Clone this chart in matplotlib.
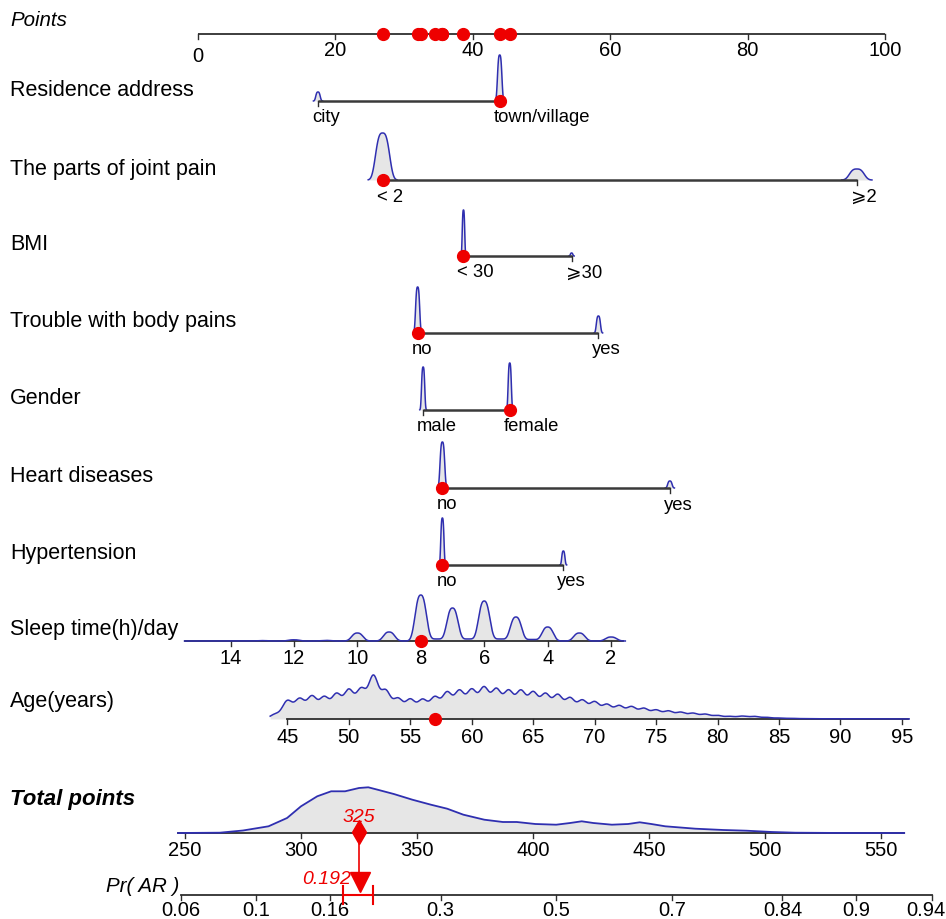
import numpy as np
import matplotlib
matplotlib.use("Agg")
import matplotlib.pyplot as plt

# ---------------- data ----------------
points_ticks = [0, 20, 40, 60, 80, 100]

residence_levels = ["city", "town/village"]
residence_points = [17.5, 43.94]
residence_density = [9, 46]

joint_levels = ["< 2", "\u2a7e2"]
joint_points = [26.9, 95.9]
joint_density = [47, 11]

bmi_levels = ["< 30", "\u2a7e30"]
bmi_points = [38.67, 54.4]
bmi_density = [46, 3]

body_levels = ["no", "yes"]
body_points = [32.0, 58.3]
body_density = [46, 17]

gender_levels = ["male", "female"]
gender_points = [32.8, 45.4]
gender_density = [43, 47]

heart_levels = ["no", "yes"]
heart_points = [35.6, 68.7]
heart_density = [46, 7]

hyper_levels = ["no", "yes"]
hyper_points = [35.6, 53.2]
hyper_density = [47, 14]

# selected levels for the individual patient
selected = {"res": 1, "joint": 0, "bmi": 0, "body": 0, "gender": 1,
            "heart": 0, "hyper": 0}
sleep_selected = 8
age_selected = 57

# continuous predictors: points = intercept + slope * value
sleep_ticks = [14, 12, 10, 8, 6, 4, 2]
sleep_pts_intercept, sleep_pts_slope = 69.37, -4.614
sleep_hours = [2, 3, 4, 4.5, 5, 5.5, 6, 6.5, 7, 7.5, 8, 9, 10, 11, 12, 13]
sleep_freq = [4, 8, 14, 1.5, 24, 2, 40, 2, 33, 2, 46, 9, 8, 0.6, 1.2, 0.4]

age_ticks = [45, 50, 55, 60, 65, 70, 75, 80, 85, 90, 95]
age_pts_intercept, age_pts_slope = 13.05 - 45 * 1.788, 1.788
age_years = list(range(44, 96))
age_freq = [5, 19.3, 21, 23.7, 22.7, 26, 30.3, 31, 45.3, 29.3, 21, 20.3, 20,
            22.7, 27.7, 29.3, 30.3, 32.7, 31, 29.3, 29.3, 27.7, 26, 25, 21.7,
            19.3, 17.7, 15, 13.7, 12.7, 11, 9.3, 8.3, 7, 6, 5, 3.7, 2.7, 3,
            2.7, 1.7, 1, 0.7, 0.4, 0.3, 0.2, 0.2, 0.2, 0.2, 0.2, 0.2, 0.2]

total_ticks = [250, 300, 350, 400, 450, 500, 550]
total_value = 325
total_dens_x = [247, 265, 275, 286, 294, 300, 307, 313, 319, 325, 329, 333,
                340, 348, 356, 363, 370, 379, 387, 393, 401, 410, 416, 421,
                426, 434, 441, 446, 451, 457, 470, 482, 492, 503, 513, 534, 560]
total_dens_h = [0, 0.3, 2.5, 6.7, 15, 26.7, 36.7, 41.7, 41.7, 45, 45.7, 43.3,
                39, 33.3, 28.3, 24.3, 18.3, 13.3, 11, 11, 9, 8.3, 10, 11.7,
                10, 8.3, 9, 10.7, 9, 6.7, 4.3, 3, 2.3, 1, 0.3, 0, 0]

pr_ticks = [0.06, 0.1, 0.16, 0.3, 0.5, 0.7, 0.84, 0.9, 0.94]
pr_center, pr_slope = 410.0, 58.8     # total points at logit 0, per logit unit
pr_value = 0.192
pr_ci = [0.173, 0.207]

# ---------------- layout / style ----------------
W, H = 946, 920
FAM = ["Liberation Sans", "DejaVu Sans"]
RED = "#ee0000"
BLUE = "#2f2fb0"
FILL = "#e6e6e6"
AX = "#2e2e2e"
PX = 0.72  # points per pixel at dpi 100
ROWFS = 15.5
CATFS = 13.3
TICKFS = 14.5

fig = plt.figure(figsize=(W / 100, H / 100), dpi=100)

def full_axes():
    a = fig.add_axes([0, 0, 1, 1])
    a.set_ylim(H, 0)
    a.axis("off")
    a.patch.set_alpha(0)
    return a

# points axes
pts_x0, pts_scale = 197.7, 6.873
ax = full_axes()
pts_lim = (-pts_x0 / pts_scale, (W - pts_x0) / pts_scale)
ax.set_xlim(*pts_lim)

def label(y, text, **kw):
    ax.text(pts_lim[0] + 10 / pts_scale, y, text, fontsize=kw.pop("fs", ROWFS),
            family=FAM, va="center", ha="left", **kw)

# Points axis
yP = 35
label(20, "Points", style="italic", fs=14.8)
ax.plot([0, 100], [yP, yP], color=AX, lw=1.3, solid_capstyle="butt")
for t in points_ticks:
    ax.plot([t, t], [yP, yP + 5], color=AX, lw=1.0)
    ax.text(t, yP + 15 + (7 if t == 0 else 0), str(t), fontsize=TICKFS,
            family=FAM, ha="center", va="center")

def bump(a, x0, y, h, sig):
    xs = np.linspace(x0 - 2.2 * sig, x0 + 2.2 * sig, 80)
    ys = y - h * np.exp(-0.5 * np.abs((xs - x0) / sig) ** 3)
    a.fill_between(xs, ys, y, color=FILL, lw=0, zorder=1)
    a.plot(xs, ys, color=BLUE, lw=1.1, zorder=2)

cat_rows = [
    ("Residence address", residence_levels, residence_points, residence_density,
     "res", 102, [0.3, 0.3]),
    ("The parts of joint pain", joint_levels, joint_points, joint_density,
     "joint", 181, [0.95, 1.0]),
    ("BMI", bmi_levels, bmi_points, bmi_density, "bmi", 257, [0.17, 0.17]),
    ("Trouble with body pains", body_levels, body_points, body_density,
     "body", 334, [0.28, 0.28]),
    ("Gender", gender_levels, gender_points, gender_density, "gender", 411,
     [0.22, 0.22]),
    ("Heart diseases", heart_levels, heart_points, heart_density, "heart", 489,
     [0.32, 0.3]),
    ("Hypertension", hyper_levels, hyper_points, hyper_density, "hyper", 566,
     [0.22, 0.22]),
]
chosen_points = []
for name, levels, pts, dens, key, y, sigs in cat_rows:
    label(y - 12, name)
    for p, d, s in zip(pts, dens, sigs):
        bump(ax, p, y, d, s)
    ax.plot([min(pts), max(pts)], [y, y], color="#3a3a3a", lw=1.8,
            solid_capstyle="butt", zorder=3)
    for p, lv in zip(pts, levels):
        ax.plot([p, p], [y, y + 5], color=AX, lw=1.0, zorder=3)
        ax.annotate(lv, xy=(p, y + 16), xytext=(-6 * PX, 0),
                    textcoords="offset points", fontsize=CATFS, family=FAM,
                    ha="left", va="center")
    sp = pts[selected[key]]
    chosen_points.append(sp)
    ax.plot([sp], [y], "o", color=RED, ms=8.5, zorder=5)

# Sleep row (own axes, x in hours)
yS = 642
axs = full_axes()
axs.set_xlim((pts_lim[0] - sleep_pts_intercept) / sleep_pts_slope,
             (pts_lim[1] - sleep_pts_intercept) / sleep_pts_slope)
label(630, "Sleep time(h)/day")
hx = np.linspace(15.45, 1.55, 1200)
hy = np.zeros_like(hx)
for c, f in zip(sleep_hours, sleep_freq):
    hy += f * np.exp(-0.5 * np.abs((hx - c) / 0.17) ** 2.6)
axs.fill_between(hx, yS - hy, yS, color=FILL, lw=0, zorder=1)
axs.plot([15.45, 1.63], [yS, yS], color=AX, lw=1.3, zorder=2)
axs.plot(hx, yS - hy, color=BLUE, lw=1.1, zorder=3)
for t in sleep_ticks:
    axs.plot([t, t], [yS, yS + 5], color=AX, lw=1.0)
    axs.text(t, yS + 17, str(t), fontsize=TICKFS, family=FAM, ha="center",
             va="center")
axs.plot([sleep_selected], [yS], "o", color=RED, ms=8.5, zorder=5)
chosen_points.append(sleep_pts_intercept + sleep_pts_slope * sleep_selected)

# Age row
yA = 720
axa = full_axes()
axa.set_xlim((pts_lim[0] - age_pts_intercept) / age_pts_slope,
             (pts_lim[1] - age_pts_intercept) / age_pts_slope)
label(702, "Age(years)")
ax_x = np.linspace(43.6, 95.6, 1500)
ay = np.zeros_like(ax_x)
sig = 0.4
norm = sum(np.exp(-0.5 * (k / sig) ** 2) for k in range(-4, 5))
for c, f in zip(age_years, age_freq):
    ay += f * np.exp(-0.5 * ((ax_x - c) / sig) ** 2)
ay /= norm
axa.fill_between(ax_x, yA - ay, yA, color=FILL, lw=0, zorder=1)
axa.plot([45, 95.5], [yA, yA], color=AX, lw=1.3, zorder=2)
axa.plot(ax_x, yA - ay, color=BLUE, lw=1.1, zorder=3)
for t in age_ticks:
    axa.plot([t, t], [yA, yA + 5], color=AX, lw=1.0)
    axa.text(t, yA + 18, str(t), fontsize=TICKFS, family=FAM, ha="center",
             va="center")
axa.plot([age_selected], [yA], "o", color=RED, ms=8.5, zorder=5)
chosen_points.append(age_pts_intercept + age_pts_slope * age_selected)

# red dots on the Points axis
ax.plot(chosen_points, [yP] * len(chosen_points), "o", color=RED, ms=8.5,
        zorder=5)

# Total points row
yT = 834
tot_x0, tot_scale = 185.0, 2.32
axt = full_axes()
tot_lim = (250 - tot_x0 / tot_scale, 250 + (W - tot_x0) / tot_scale)
axt.set_xlim(*tot_lim)
axt.text(10 / tot_scale + tot_lim[0], 800, "Total points", fontsize=16,
         family=FAM, style="italic", weight="bold", ha="left", va="center")
axt.fill_between(total_dens_x, yT - np.array(total_dens_h), yT, color=FILL,
                 lw=0, zorder=1)
axt.plot([247, 560], [yT, yT], color=AX, lw=1.3, zorder=2)
axt.plot(total_dens_x, yT - np.array(total_dens_h), color=BLUE, lw=1.3,
         zorder=3)
for t in total_ticks:
    axt.plot([t, t], [yT, yT + 5], color=AX, lw=1.0)
    axt.text(t, yT + 17, str(t), fontsize=TICKFS, family=FAM, ha="center",
             va="center")
axt.plot([total_value, total_value], [yT, 878], color=RED, lw=1.2, zorder=4)
axt.plot([total_value], [yT - 1], marker="d", color=RED, ms=12, zorder=5)
axt.text(total_value, 818, str(total_value), color=RED, fontsize=14,
         family=FAM, style="italic", ha="center", va="center")

# Pr row (logit scale)
yR = 896
axp = full_axes()
axp.set_xscale("logit")
sig_f = lambda t: 1 / (1 + np.exp(-(t - pr_center) / pr_slope))
axp.set_xlim(sig_f(tot_lim[0]), sig_f(tot_lim[1]))
axp.axis("off")
axp.text(sig_f(tot_lim[0] + 179 / tot_scale), 887, "Pr( AR )", fontsize=14.8,
         family=FAM, style="italic", ha="right", va="center")
axp.plot([pr_ticks[0], pr_ticks[-1]], [yR, yR], color=AX, lw=1.3)
for i, t in enumerate(pr_ticks):
    axp.plot([t, t], [yR, yR + 5], color=AX, lw=1.0)
    last = i == len(pr_ticks) - 1
    axp.annotate(f"{t:g}", xy=(t, yR + 15), xytext=(-6 * PX if last else 0, 0),
                 textcoords="offset points", fontsize=TICKFS, family=FAM,
                 ha="center", va="center")
axp.plot([pr_value], [883], marker="v", color=RED, ms=14, zorder=5)
axp.plot(pr_ci, [yR, yR], color=RED, lw=1.5, zorder=5)
for c in pr_ci:
    axp.plot([c, c], [yR - 9, yR + 9], color=RED, lw=1.5, zorder=5)
axp.annotate(f"{pr_value:g}", xy=(pr_value, 880), xytext=(-9 * PX, 0),
             textcoords="offset points", color=RED, fontsize=14, family=FAM,
             style="italic", ha="right", va="center")

fig.savefig("out.png", dpi=100)
